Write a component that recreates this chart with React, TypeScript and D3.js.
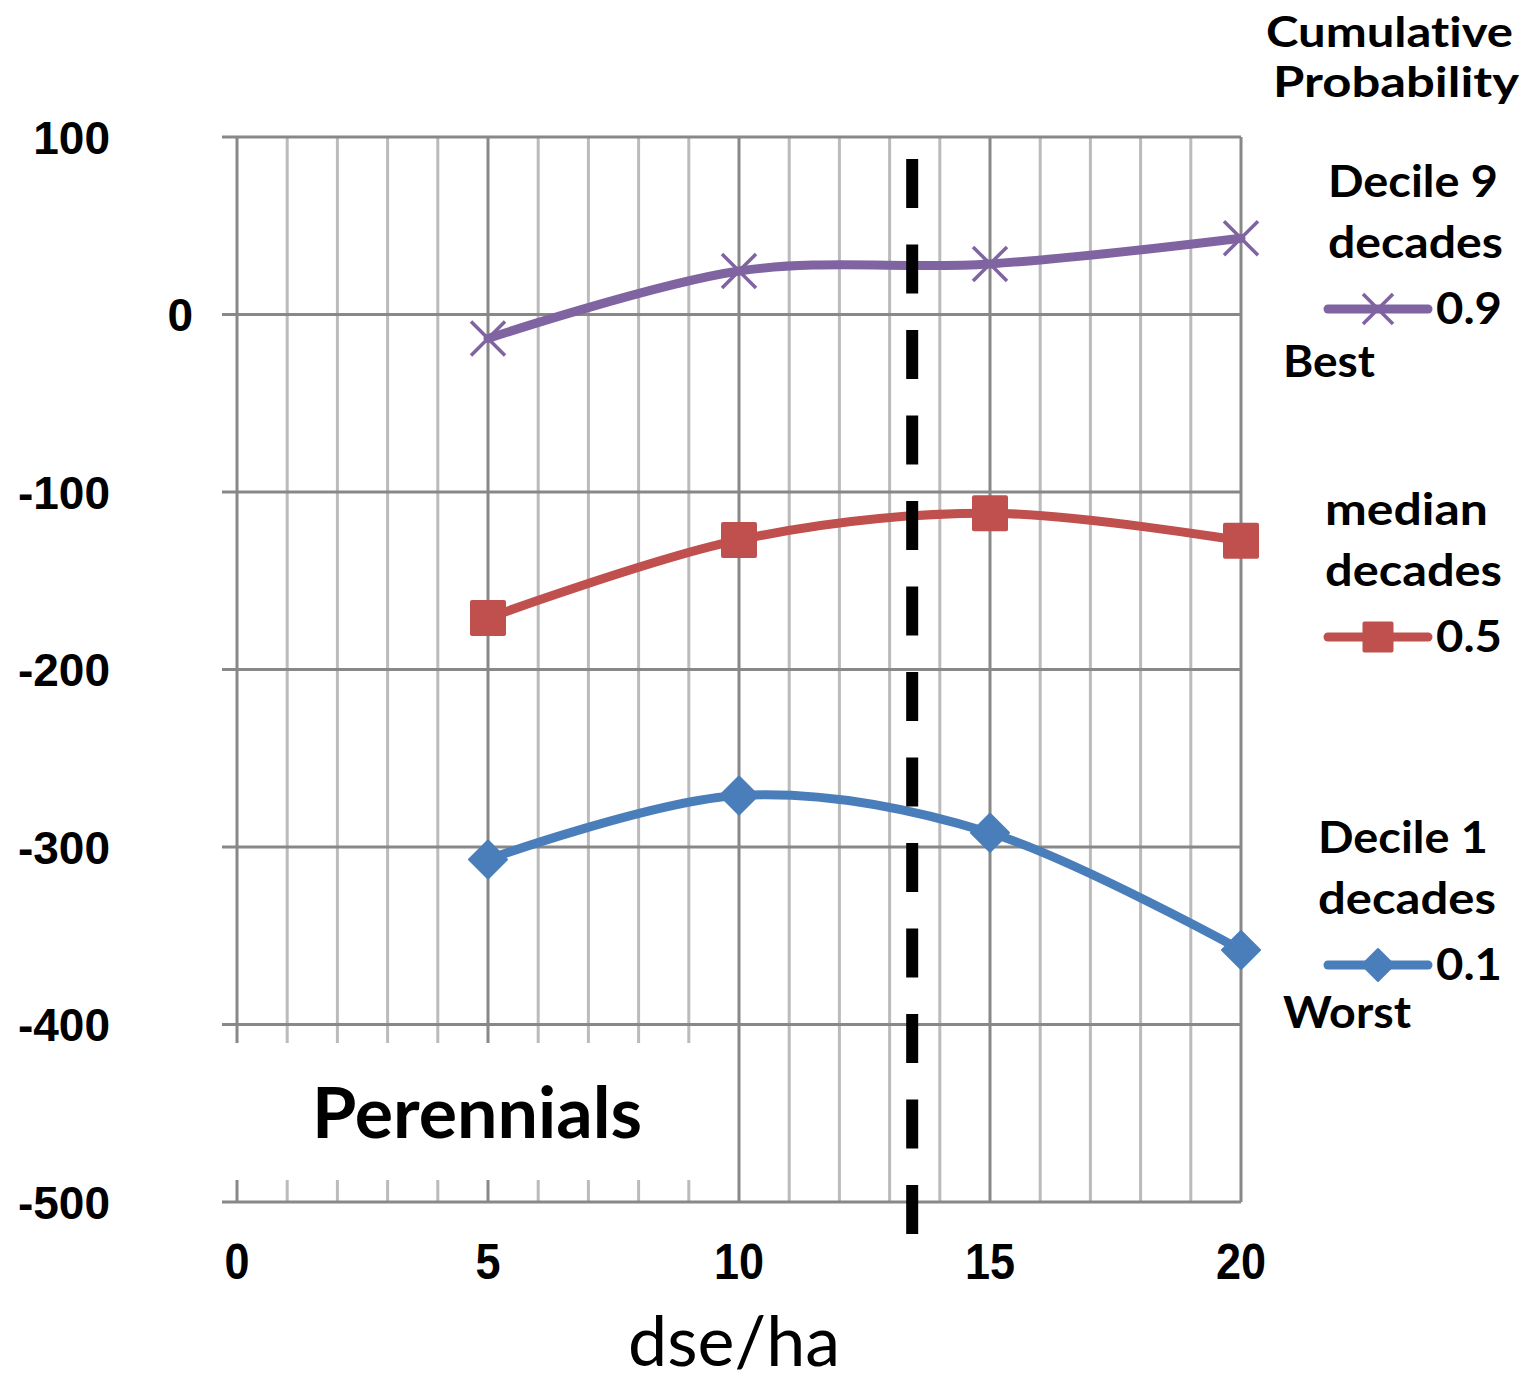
import React from "react";
import * as d3 from "d3";

const xTicks = [0, 5, 10, 15, 20];
const yTicks = [100, 0, -100, -200, -300, -400, -500];
const xValues = [5, 10, 15, 20];
const bestValues = [-13.5, 24.5, 28.5, 43];
const medianValues = [-171, -127, -112, -127.5];
const worstValues = [-307, -271, -292, -358];
const thresholdX = 13.45;
const legendTitle = ["Cumulative", "Probability"];
const legendBest = ["Decile 9", "decades", "0.9", "Best"];
const legendMedian = ["median", "decades", "0.5"];
const legendWorst = ["Decile 1", "decades", "0.1", "Worst"];

const NUM_FONT = "'Liberation Sans', Arial, sans-serif";
const TXT_FONT = "Lato, 'Open Sans', sans-serif";

const PURPLE = "#8064A2";
const RED = "#C0504D";
const BLUE = "#4A7EBB";

function Marker({ kind, x, y, size, color }: { kind: string; x: number; y: number; size: number; color: string }) {
  const h = size / 2;
  if (kind === "x") {
    return (
      <g stroke={color} strokeWidth={3.5}>
        <line x1={x - h} y1={y - h} x2={x + h} y2={y + h} />
        <line x1={x - h} y1={y + h} x2={x + h} y2={y - h} />
      </g>
    );
  }
  if (kind === "square") {
    return <rect x={x - h} y={y - h} width={size} height={size} rx={2} fill={color} />;
  }
  return (
    <path
      d={`M${x},${y - h} L${x + h},${y} L${x},${y + h} L${x - h},${y} Z`}
      fill={color}
      stroke={color}
      strokeWidth={2}
      strokeLinejoin="round"
    />
  );
}

export default function App() {
  const x = d3.scaleLinear().domain([0, 20]).range([237, 1241]);
  const y = d3.scaleLinear().domain([-500, 100]).range([1202, 137]);
  const line = d3
    .line<[number, number]>()
    .x((d) => x(d[0]))
    .y((d) => y(d[1]))
    .curve(d3.curveCardinal.tension(0));

  const series = [
    { values: bestValues, color: PURPLE, kind: "x", size: 34 },
    { values: medianValues, color: RED, kind: "square", size: 36 },
    { values: worstValues, color: BLUE, kind: "diamond", size: 38 },
  ];

  const minor = d3.range(0, 21).filter((v) => v % 5 !== 0);
  const [y0, y1] = [y(100), y(-500)];
  const gridLeft = 222;

  const legendText = (t: string, xx: number, yy: number, w: number, fs = 43) => (
    <text
      x={xx}
      y={yy}
      fontFamily={TXT_FONT}
      fontWeight={700}
      fontSize={fs}
      textLength={w}
      lengthAdjust="spacingAndGlyphs"
      fill="#000"
      style={{ fontVariantLigatures: "none" }}
    >
      {t}
    </text>
  );

  const legendSwatch = (cy: number, color: string, kind: string, size: number) => (
    <g>
      <line x1={1328} x2={1428} y1={cy} y2={cy} stroke={color} strokeWidth={9} strokeLinecap="round" />
      <Marker kind={kind} x={1378} y={cy} size={size} color={color} />
    </g>
  );

  return (
    <svg
      width={1537}
      height={1383}
      style={{ position: "absolute", left: 0, top: 0, background: "#fff" }}
    >
      <rect x={0} y={0} width={1537} height={1383} fill="#fff" />
      {minor.map((v) => (
        <line key={"mv" + v} x1={x(v)} x2={x(v)} y1={y0} y2={y1} stroke="#BBBBBB" strokeWidth={3} />
      ))}
      {xTicks.map((v) => (
        <line key={"Mv" + v} x1={x(v)} x2={x(v)} y1={y0} y2={y1} stroke="#888888" strokeWidth={3} />
      ))}
      {yTicks.map((v) => (
        <line key={"h" + v} x1={gridLeft} x2={x(20)} y1={y(v)} y2={y(v)} stroke="#888888" strokeWidth={3} />
      ))}
      <rect x={224} y={1043} width={490} height={137} fill="#fff" />
      <text
        x={312}
        y={1138}
        fontFamily={TXT_FONT}
        fontWeight={700}
        fontSize={70}
        textLength={330}
        lengthAdjust="spacingAndGlyphs"
      >
        Perennials
      </text>

      {yTicks.map((v) => (
        <text
          key={"yl" + v}
          x={v === 0 ? 193 : 110}
          y={y(v)}
          dy="0.36em"
          textAnchor="end"
          fontFamily={NUM_FONT}
          fontWeight={700}
          fontSize={46}
        >
          {v}
        </text>
      ))}
      {xTicks.map((v) => (
        <g key={"xl" + v} transform={`translate(${x(v)},1279) scale(1,1.1)`}>
          <text x={0} y={0} textAnchor="middle" fontFamily={NUM_FONT} fontWeight={700} fontSize={45}>
            {v}
          </text>
        </g>
      ))}
      <text
        x={628}
        y={1366}
        fontFamily={TXT_FONT}
        fontWeight={400}
        fontSize={70}
        textLength={212}
        lengthAdjust="spacingAndGlyphs"
      >
        dse/ha
      </text>

      {series.map((s, i) => {
        const pts = xValues.map((xv, j) => [xv, s.values[j]] as [number, number]);
        return (
          <g key={"s" + i}>
            <path d={line(pts) || ""} fill="none" stroke={s.color} strokeWidth={9} strokeLinecap="round" />
            {pts.map((p, j) => (
              <Marker key={j} kind={s.kind} x={x(p[0])} y={y(p[1])} size={s.size} color={s.color} />
            ))}
          </g>
        );
      })}

      <line
        x1={x(thresholdX)}
        x2={x(thresholdX)}
        y1={159}
        y2={1234}
        stroke="#000"
        strokeWidth={12}
        strokeDasharray="49 36.5"
      />

      {legendText(legendTitle[0], 1266, 47, 247, 42)}
      {legendText(legendTitle[1], 1273, 97, 246, 42)}

      {legendText(legendBest[0], 1328, 197, 170)}
      {legendText(legendBest[1], 1328, 258, 175)}
      {legendSwatch(309, PURPLE, "x", 30)}
      {legendText(legendBest[2], 1436, 324, 66)}
      {legendText(legendBest[3], 1283, 377, 92)}

      {legendText(legendMedian[0], 1325, 525, 163)}
      {legendText(legendMedian[1], 1325, 586, 177)}
      {legendSwatch(637, RED, "square", 31)}
      {legendText(legendMedian[2], 1436, 652, 66)}

      {legendText(legendWorst[0], 1318, 853, 170)}
      {legendText(legendWorst[1], 1318, 914, 178)}
      {legendSwatch(965, BLUE, "diamond", 32)}
      {legendText(legendWorst[2], 1436, 980, 66)}
      {legendText(legendWorst[3], 1283, 1028, 128)}
    </svg>
  );
}
